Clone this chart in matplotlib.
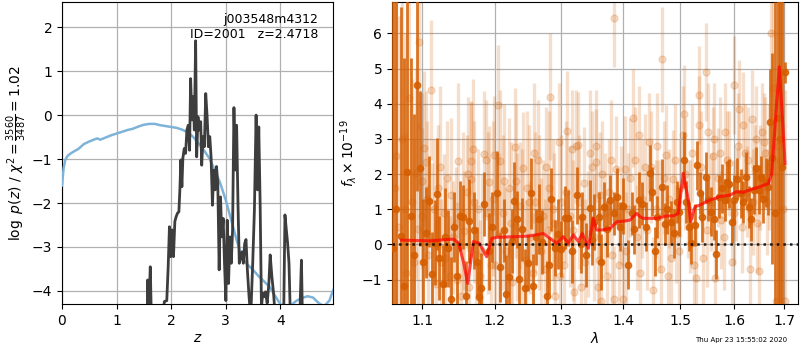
import matplotlib
matplotlib.use("Agg")
import matplotlib.pyplot as plt
from matplotlib.ticker import FixedLocator, NullLocator, FormatStrFormatter

# ---------------- left panel data ----------------
chi_z = [0.0, 0.03, 0.06, 0.1, 0.15, 0.2, 0.3, 0.4, 0.5, 0.6, 0.65, 0.7, 0.8, 0.9,
         1.0, 1.1, 1.2, 1.3, 1.4, 1.5, 1.6, 1.7, 1.8, 1.9, 2.0, 2.1, 2.2, 2.3,
         2.4, 2.5, 2.6, 2.7, 2.8, 2.9, 3.0, 3.1, 3.2, 3.3, 3.4, 3.5, 3.6, 3.7,
         3.8, 3.9, 4.0, 4.1, 4.2, 4.3, 4.4, 4.5, 4.6, 4.7, 4.8, 4.9, 4.97]
chi_val = [-1.6, -1.2, -1.02, -0.93, -0.88, -0.84, -0.77, -0.66, -0.6, -0.55, -0.53, -0.56, -0.51, -0.46,
           -0.42, -0.38, -0.34, -0.31, -0.26, -0.22, -0.2, -0.2, -0.23, -0.25, -0.27, -0.29, -0.33, -0.39,
           -0.49, -0.64, -0.8, -0.98, -1.25, -1.55, -1.93, -2.38, -2.84, -3.26, -3.4, -3.52, -3.66, -3.78,
           -3.9, -4.1, -4.3, -4.35, -4.32, -4.22, -4.16, -4.12, -4.15, -4.27, -4.35, -4.22, -3.98]

pz_z = [0.0, 1.55, 1.569, 1.588, 1.618, 1.637, 1.846, 1.877, 1.92, 1.945, 1.969, 1.994,
        2.018, 2.043, 2.068, 2.092, 2.117, 2.142, 2.16, 2.178, 2.197, 2.215, 2.24, 2.265,
        2.289, 2.314, 2.338, 2.357, 2.382, 2.406, 2.425, 2.449, 2.468, 2.492, 2.517, 2.542,
        2.56, 2.585, 2.609, 2.634, 2.658, 2.683, 2.708, 2.732, 2.757, 2.782, 2.806, 2.831,
        2.855, 2.88, 2.905, 2.929, 2.954, 2.978, 3.003, 3.028, 3.052, 3.077, 3.102, 3.126,
        3.151, 3.175, 3.2, 3.225, 3.249, 3.274, 3.298, 3.323, 3.348, 3.372, 3.397, 3.428,
        3.458, 3.495, 3.526, 3.557, 3.582, 3.606, 3.631, 3.655, 3.68, 3.705, 3.729, 3.76,
        3.791, 3.815, 3.846, 3.877, 3.908, 4.062, 4.086, 4.111, 4.135, 4.16, 4.185, 4.357,
        4.388, 4.406, 4.97]
pz_val = [-6, -6, -3.75, -4.5, -3.45, -4.6, -4.5, -4.24, -4.22, -3.48, -2.54, -3.22,
          -2.61, -3.22, -2.42, -2.31, -2.23, -2.2, -1.7, -1.02, -1.63, -0.98, -0.76, -0.87,
          -0.34, -0.23, -0.8, 0.83, -0.11, 0.42, -0.34, 1.69, -0.95, -0.04, -0.34, -0.15,
          -1.14, -0.49, -0.72, 0.49, 0.0, -0.72, -0.49, -0.95, -2.05, -1.25, -1.7, -1.17,
          -1.55, -3.52, -1.86, -2.77, -2.35, -3.37, -4.22, -2.39, -3.83, -2.77, -3.37, -2.61,
          0.17, -1.25, -0.23, -2.01, -3.37, -3.22, -3.11, -3.37, -2.92, -2.83, -3.52, -4.13,
          -4.6, -3.37, -2.16, 0.0, -1.7, -0.27, -2.01, -4.36, -4.05, -4.13, -4.02, -4.28,
          -3.83, -3.18, -3.67, -4.05, -4.6, -4.6, -2.27, -2.61, -2.92, -3.37, -4.6, -4.6,
          -3.3, -4.6, -6]

# ---------------- right panel data ----------------
dark_lam = [1.0625, 1.0660, 1.0722, 1.0762, 1.0798, 1.0850, 1.0890, 1.0930, 1.0966, 1.1010,
            1.1047, 1.1088, 1.1124, 1.1171, 1.1193, 1.1226, 1.1282, 1.1310, 1.1345, 1.1392,
            1.1430, 1.1470, 1.1503, 1.1544, 1.1586, 1.1641, 1.1710, 1.1740, 1.1770, 1.1802,
            1.1848, 1.1917, 1.1960, 1.2032, 1.2081, 1.2132, 1.2170, 1.2207, 1.2245, 1.2282,
            1.2321, 1.2357, 1.2396, 1.2447, 1.2486, 1.2531, 1.2572, 1.2606, 1.2657, 1.2707,
            1.2771, 1.2807, 1.2846, 1.2897, 1.2942, 1.2988, 1.3054, 1.3107, 1.3171, 1.3240,
            1.3304, 1.3332, 1.3396, 1.3455, 1.3481, 1.3521, 1.3601, 1.3643, 1.3681, 1.3734,
            1.3787, 1.3842, 1.3894, 1.3947, 1.4000, 1.4088, 1.4147, 1.4195, 1.4265, 1.4324,
            1.4395, 1.4471, 1.4501, 1.4548, 1.4589, 1.4665, 1.4725, 1.4766, 1.4824, 1.4884,
            1.4943, 1.4984, 1.5062, 1.5110, 1.5154, 1.5202, 1.5265, 1.5307, 1.5350, 1.5400,
            1.5462, 1.5511, 1.5567, 1.5616, 1.5664, 1.5708, 1.5770, 1.5820, 1.5862, 1.5912,
            1.5955, 1.6000, 1.6066, 1.6133, 1.6181, 1.6234, 1.6282, 1.6335, 1.6389, 1.6436,
            1.6484, 1.6530, 1.6570, 1.6617, 1.6665, 1.6712, 1.6753, 1.6808, 1.6861, 1.6902,
            1.6943, 1.7012]
dark_flux = [-0.11, 1.0, 0.24, -1.19, 2.06, 0.8, -0.3, 4.52, 2.16, -0.5,
             0.33, 1.22, -0.84, 0.05, 1.43, -0.38, -1.13, 0.2, -0.11, -1.56,
             0.5, -0.9, 0.8, 0.78, -1.46, 0.66, 0.4, -0.5, -1.5, -1.25,
             1.15, -0.2, 0.5, 1.45, -0.64, 0.4, -1.4, -0.92, 0.1, 1.23,
             0.71, -0.98, 0.43, -1.24, -0.54, 1.45, -1.17, 0.2, 0.72, 0.07,
             -1.48, -0.6, 1.28, -0.11, 0.3, -0.14, 0.76, 0.74, -0.2, 1.39,
             0.0, 0.78, -0.3, 1.04, 0.12, 0.64, 0.78, -0.5, 1.07, 0.43,
             1.26, 0.88, 1.36, 0.5, 1.1, -0.58, 0.88, 0.43, 1.26, 1.16,
             0.5, 2.02, 1.5, -0.2, 0.78, 1.64, 0.59, 1.0, 0.64, 0.31,
             1.2, 0.93, 2.4, 1.2, 0.5, 0.03, 0.55, 2.25, 1.45, 0.78,
             1.92, 1.26, 0.93, 0.73, -0.28, 1.36, 1.59, 1.26, 1.77, 1.73,
             0.64, 1.26, 1.87, 1.45, 1.21, 1.92, 1.07, 0.71, 1.55, 2.16,
             1.55, 1.92, 1.3, 1.77, 1.64, 3.48, 2.45, 0.9, 3.6, 3.0,
             2.2, 4.9]
dark_err = [9.0, 7.0, 6.5, 6.5, 5.0, 4.5, 4.0, 3.0, 2.2, 1.8,
            1.3, 1.3, 1.2, 1.2, 1.6, 1.2, 1.1, 1.4, 1.1, 1.2,
            1.0, 1.0, 1.0, 0.9, 1.0, 1.2, 1.1, 1.0, 1.0, 1.0,
            0.9, 1.1, 1.0, 1.2, 1.0, 0.9, 1.1, 1.0, 0.9, 1.1,
            0.8, 1.0, 0.9, 1.1, 0.8, 1.0, 0.9, 0.8, 1.0, 0.9,
            1.0, 0.8, 0.9, 0.8, 1.0, 0.8, 0.9, 0.8, 0.9, 0.8,
            0.8, 0.7, 0.9, 0.8, 0.7, 0.8, 0.7, 0.8, 0.7, 0.8,
            0.7, 0.6, 0.8, 0.7, 0.8, 0.7, 0.6, 0.7, 0.8, 0.6,
            0.7, 0.8, 0.7, 0.7, 0.6, 0.8, 0.6, 0.7, 0.6, 0.7,
            0.6, 0.7, 0.8, 0.6, 0.7, 0.6, 0.6, 0.7, 0.6, 0.7,
            0.7, 0.6, 0.7, 0.6, 0.7, 0.6, 0.7, 0.6, 0.6, 0.7,
            0.6, 0.7, 0.6, 0.7, 0.6, 0.7, 0.6, 0.6, 0.7, 0.6,
            0.7, 0.6, 0.7, 0.7, 0.8, 1.5, 3.0, 6.0, 6.5, 8.0,
            9.0, 0.3]

light_lam = [1.0640, 1.0690, 1.0740, 1.0790, 1.0823, 1.0870, 1.0914, 1.0945, 1.0961, 1.0990,
             1.1019, 1.1050, 1.1080, 1.1110, 1.1150, 1.1181, 1.1210, 1.1250, 1.1290, 1.1330,
             1.1370, 1.1410, 1.1450, 1.1488, 1.1527, 1.1568, 1.1600, 1.1632, 1.1659, 1.1668,
             1.1696, 1.1730, 1.1760, 1.1790, 1.1848, 1.1880, 1.1917, 1.1950, 1.1985, 1.2010,
             1.2047, 1.2081, 1.2120, 1.2160, 1.2207, 1.2257, 1.2297, 1.2330, 1.2370, 1.2417,
             1.2456, 1.2481, 1.2520, 1.2560, 1.2600, 1.2641, 1.2680, 1.2720, 1.2756, 1.2790,
             1.2831, 1.2870, 1.2906, 1.2958, 1.3000, 1.3040, 1.3096, 1.3140, 1.3171, 1.3200,
             1.3224, 1.3265, 1.3304, 1.3357, 1.3420, 1.3481, 1.3548, 1.3559, 1.3584, 1.3601,
             1.3643, 1.3659, 1.3700, 1.3760, 1.3821, 1.3842, 1.3853, 1.3886, 1.3931, 1.4000,
             1.4027, 1.4080, 1.4171, 1.4199, 1.4230, 1.4265, 1.4290, 1.4373, 1.4442, 1.4512,
             1.4560, 1.4589, 1.4649, 1.4665, 1.4736, 1.4800, 1.4824, 1.4866, 1.4930, 1.5000,
             1.5044, 1.5067, 1.5130, 1.5210, 1.5240, 1.5280, 1.5333, 1.5343, 1.5420, 1.5462,
             1.5511, 1.5560, 1.5598, 1.5646, 1.5700, 1.5760, 1.5832, 1.5870, 1.5955, 1.5994,
             1.6040, 1.6098, 1.6150, 1.6216, 1.6260, 1.6303, 1.6351, 1.6400, 1.6450, 1.6484,
             1.6550, 1.6590, 1.6640, 1.6718, 1.6760, 1.6820, 1.6870, 1.6918, 1.6960, 1.7012]
light_flux = [1.6, 0.5, 3.0, -0.8, 4.15, 1.2, 2.02, 0.45, 5.76, 1.8,
              2.73, 2.35, -0.3, 4.39, 1.0, -1.12, 1.6, -0.5, 0.88, 1.9,
              -0.9, 0.2, 0.6, 2.38, -1.46, 0.39, 1.5, -1.2, 1.85, 2.38,
              2.7, -0.3, 1.0, -0.9, 2.57, 2.4, 1.78, -0.6, 2.53, -0.6,
              3.96, 2.38, 0.9, -0.2, 1.6, -1.08, 2.76, 0.5, 1.1, 2.16,
              -0.45, 1.6, 0.2, -0.8, 1.2, 2.4, -0.2, 0.8, 2.2, 0.4,
              4.2, 1.0, -1.48, 2.9, 1.2, -0.6, 3.22, 0.8, 2.7, -1.35,
              2.8, 2.82, -1.2, 1.75, 0.3, 2.2, 2.35, 2.8, -1.2, -0.45,
              -1.6, 2.0, 0.9, 1.5, -0.3, -1.55, 6.45, 2.15, -0.6, -1.55,
              2.15, 1.0, 3.6, 2.4, 0.2, 3.1, -0.8, 2.2, 2.9, -1.3,
              1.0, 2.8, -0.7, 5.26, 2.55, 1.3, -0.4, 1.85, 0.3, 1.6,
              3.1, 3.71, 1.0, 2.6, -0.6, -0.95, 4.25, 3.4, -0.4, 4.9,
              3.2, 1.2, 2.5, -0.95, 1.9, 0.7, 3.2, 2.4, -0.5, 4.53,
              1.4, 3.85, 0.5, 2.6, 1.5, -0.7, 3.57, 2.1, 0.6, -0.75,
              3.2, 2.9, 1.2, 6.0, 4.45, -1.6, 2.8, 2.4, 1.0, -1.6]
light_err = [6.0, 6.0, 5.0, 4.0, 3.0, 3.5, 3.0, 3.0, 2.5, 2.5,
             2.2, 2.0, 2.0, 2.0, 2.0, 1.8, 1.8, 1.8, 1.7, 1.6,
             1.7, 1.6, 1.6, 2.2, 1.6, 1.7, 1.6, 1.7, 2.2, 1.7,
             2.0, 1.6, 1.7, 1.6, 1.8, 1.7, 1.6, 1.8, 1.7, 1.6,
             1.7, 2.0, 2.2, 1.8, 2.0, 1.7, 1.7, 2.1, 1.8, 1.6,
             1.7, 2.2, 1.6, 1.7, 2.0, 1.7, 2.1, 1.6, 1.7, 1.6,
             1.8, 2.0, 1.7, 1.7, 1.9, 1.6, 1.7, 2.0, 1.7, 1.7,
             1.6, 1.5, 1.6, 1.6, 1.8, 1.6, 1.5, 1.6, 1.6, 1.5,
             1.6, 1.5, 1.7, 1.5, 1.6, 1.5, 1.4, 1.5, 1.5, 1.5,
             1.5, 1.6, 1.4, 1.5, 1.5, 1.4, 1.5, 1.5, 1.4, 1.5,
             1.4, 1.5, 1.5, 1.5, 1.4, 1.4, 1.5, 1.4, 1.4, 1.4,
             1.4, 1.4, 1.4, 1.4, 1.4, 1.5, 1.4, 1.4, 1.4, 1.4,
             1.4, 1.4, 1.4, 1.4, 1.4, 1.4, 1.4, 1.4, 1.4, 1.4,
             1.3, 1.4, 1.3, 1.4, 1.3, 1.4, 1.4, 1.3, 1.4, 1.4,
             1.4, 1.4, 1.5, 1.8, 2.5, 4.0, 5.0, 6.0, 6.0, 6.0]

# second beam (faint)
beam2_lam = [1.0660, 1.0770, 1.0895, 1.1000, 1.1065, 1.1135, 1.1230, 1.1310, 1.1390, 1.1470,
             1.1545, 1.1615, 1.1710, 1.1815, 1.1900, 1.1968, 1.2065, 1.2140, 1.2230, 1.2315,
             1.2400, 1.2500, 1.2580, 1.2660, 1.2740, 1.2810, 1.2890, 1.2980, 1.3070, 1.3190,
             1.3280, 1.3380, 1.3450, 1.3520, 1.3620, 1.3730, 1.3800, 1.3960, 1.4050, 1.4120,
             1.4320, 1.4410, 1.4480, 1.4620, 1.4700, 1.4780, 1.4900, 1.4970, 1.5090, 1.5170,
             1.5380, 1.5490, 1.5620, 1.5730, 1.5800, 1.5910, 1.6000, 1.6070, 1.6180, 1.6280,
             1.6370, 1.6420, 1.6510, 1.6610, 1.6680]
beam2_flux = [2.5, 1.0, -0.5, 0.8, 1.3, 0.1, 2.2, -0.4, 1.4, -1.0,
              0.9, 2.0, 1.2, -0.2, 0.9, 1.3, 0.3, 1.8, 0.6, 1.8,
              0.4, 1.2, 2.6, 0.9, -0.7, 1.6, 0.6, -0.9, 1.5, 0.4,
              1.2, -0.5, 2.6, 0.2, 1.4, -0.9, 2.4, 1.1, -0.2, 1.9,
              1.3, 0.4, 2.2, 0.8, 1.9, -0.9, 2.4, -0.2, 2.0, 0.8,
              2.2, 0.4, 3.0, 2.6, 0.2, 2.3, 0.9, 2.8, 3.4, 2.4,
              1.2, 3.0, 1.9, 2.6, 2.2]
beam2_err = [5.0, 5.0, 3.5, 2.5, 2.2, 2.2, 2.3, 2.2, 2.2, 2.2,
             2.3, 2.2, 2.3, 2.2, 2.3, 2.2, 2.3, 2.2, 2.3, 2.2,
             2.3, 2.2, 2.0, 2.2, 2.0, 2.2, 2.0, 2.0, 2.0, 2.0,
             1.9, 1.8, 1.8, 1.8, 1.8, 1.8, 1.7, 1.7, 1.7, 1.7,
             1.7, 1.7, 1.6, 1.6, 1.6, 1.6, 1.6, 1.6, 1.6, 1.6,
             1.6, 1.6, 1.6, 1.6, 1.5, 1.5, 1.5, 1.5, 1.5, 1.5,
             1.5, 1.5, 1.5, 1.6, 1.8]

model_lam = [1.0730, 1.1102, 1.1418, 1.1488, 1.1557, 1.1617, 1.1696, 1.1780, 1.1884, 1.1957,
             1.2029, 1.2321, 1.2520, 1.2722, 1.2824, 1.2927, 1.3031, 1.3110, 1.3189, 1.3268,
             1.3332, 1.3429, 1.3509, 1.3564, 1.3646, 1.3783, 1.3894, 1.4006, 1.4119, 1.4232,
             1.4289, 1.4346, 1.4578, 1.4754, 1.4873, 1.4962, 1.5053, 1.5143, 1.5186, 1.5266,
             1.5358, 1.5543, 1.5731, 1.5921, 1.6049, 1.6178, 1.6309, 1.6506, 1.6673, 1.6740,
             1.6807, 1.6895, 1.6976, 1.7010]
model_flux = [0.12, 0.10, 0.15, 0.05, -0.5, -1.11, 0.08, 0.03, -0.35, 0.17,
              0.20, 0.22, 0.24, 0.31, 0.17, 0.03, 0.22, 0.03, 0.27, 0.08,
              0.31, -0.11, 0.74, 0.41, 0.41, 0.45, 0.64, 0.66, 0.69, 0.88,
              0.79, 0.74, 0.74, 0.81, 0.81, 0.88, 2.02, 1.26, 0.65, 1.07,
              1.12, 1.26, 1.36, 1.40, 1.50, 1.48, 1.55, 1.64, 1.73, 2.0,
              3.35, 5.05, 3.16, 2.30]

ticks_lam = [1.1, 1.2, 1.3, 1.4, 1.5, 1.6, 1.7]

G141 = (0.8352941176470589, 0.3686274509803922, 0.0)

fig = plt.figure(figsize=(8, 3.5), dpi=100)
ax1 = fig.add_axes([0.0775, 0.131, 0.339, 0.863])
ax2 = fig.add_axes([0.49, 0.131, 0.507, 0.863])

# left panel
ax1.plot(chi_z, chi_val, color='#7db3d8', lw=1.8, zorder=3)
ax1.plot(pz_z, pz_val, color='#3d3d3d', lw=2.0, zorder=4)
ax1.set_xlim(0, 4.97)
ax1.set_ylim(-4.3, 2.57)
ax1.set_xticks([0, 1, 2, 3, 4])
ax1.set_yticks([-4, -3, -2, -1, 0, 1, 2])
ax1.grid(True, color='#b0b0b0', lw=0.9)
ax1.set_axisbelow(True)
ax1.set_xlabel(r'$z$', labelpad=2)
ax1.set_ylabel(r'$\log\ p(z)$' + ' / ' + r'$\chi^2=\frac{3560}{3487}=1.02$', labelpad=2)
ax1.text(0.945, 0.965, 'j003548m4312\nID=2001   z=2.4718', transform=ax1.transAxes,
         ha='right', va='top', fontsize=9, zorder=6)

# right panel
for lam, flx, err in [(light_lam, light_flux, light_err), (beam2_lam, beam2_flux, beam2_err)]:
    ax2.errorbar(lam, flx, yerr=err, color=G141, alpha=0.2,
                 marker='o', markersize=5, linestyle='None', elinewidth=2.4, zorder=2)
ax2.errorbar(dark_lam, dark_flux, yerr=dark_err, color=G141, alpha=0.85,
             marker='o', markersize=4.5, linestyle='None', elinewidth=2.0, zorder=3)
ax2.plot(model_lam, model_flux, color='r', alpha=0.7, lw=2.2, zorder=5)
ax2.set_xscale('log')
ax2.set_xlim(1.0606, 1.727)
ax2.set_ylim(-1.70, 6.89)
ax2.plot([1.0606, 1.727], [0, 0], color='k', linestyle=':', lw=1.8, alpha=0.85, zorder=6)
ax2.xaxis.set_major_locator(FixedLocator(ticks_lam))
ax2.xaxis.set_minor_locator(NullLocator())
ax2.xaxis.set_major_formatter(FormatStrFormatter('%.1f'))
ax2.set_yticks([-1, 0, 1, 2, 3, 4, 5, 6])
ax2.grid(True, color='#b0b0b0', lw=0.9)
ax2.set_axisbelow(True)
ax2.set_xlabel(r'$\lambda$', labelpad=2)
ax2.set_ylabel(r'$f_\lambda\times10^{-19}$', labelpad=2)

fig.text(0.984, 0.029, 'Thu Apr 23 15:55:02 2020', ha='right', va='center', fontsize=5)

fig.savefig('out.png', dpi=100)
